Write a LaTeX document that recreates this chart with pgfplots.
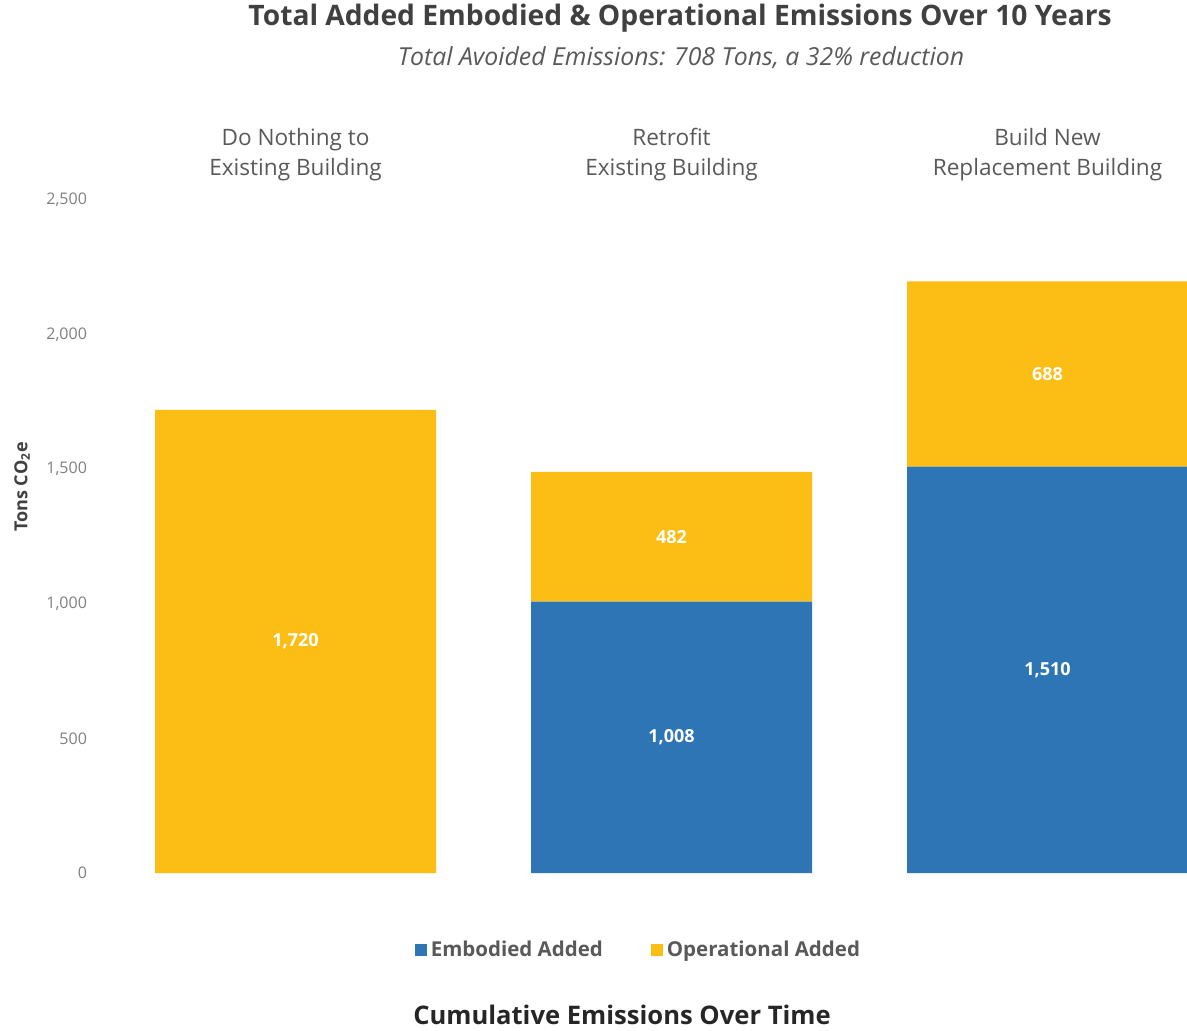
\documentclass[border=0pt]{standalone}
\usepackage{pgfplots}
\pgfplotsset{compat=1.18}
\usepackage{fontspec}
\setmainfont{Open Sans}
\definecolor{cblue}{RGB}{46,117,182}
\definecolor{cyel}{RGB}{252,190,20}
\definecolor{tgray}{RGB}{89,89,89}
\definecolor{titlegray}{RGB}{64,64,64}
\definecolor{tickgray}{RGB}{128,128,128}
\begin{document}
\begin{tikzpicture}[x=1pt,y=1pt]
\useasboundingbox (0,0) rectangle (593.5,515);
\pgfplotsset{base/.style={
  at={(47pt,78.5pt)}, anchor=south west,
  scale only axis, width=546.5pt, height=336.5pt,
  xmin=-0.536, xmax=2.371, ymin=0, ymax=2500,
  axis line style={draw=none}, major tick length=0pt,
  clip=false,
}}
\begin{axis}[base, ybar stacked, bar width=140.5pt,
  xtick={0,1,2},
  xticklabels={{Do Nothing to\\Existing Building},{Retrofit\\Existing Building},{Build New\\Replacement Building}},
  xticklabel pos=upper,
  xticklabel style={align=center, font=\fontsize{11.3}{15}\selectfont, text=tgray, yshift=6pt},
  ytick={0,500,1000,1500,2000,2500},
  scaled y ticks=false,
  yticklabel style={font=\fontsize{8}{9}\selectfont, text=tickgray, /pgf/number format/1000 sep={,}},
  /pgf/number format/assume math mode=true,
  legend style={at={(axis description cs:0.499,-0.1144)}, anchor=center, draw=none, fill=none,
    legend columns=2, font=\bfseries\fontsize{10.25}{12}\selectfont\color{tgray},
    /tikz/every even column/.append style={column sep=22pt}},
  legend image code/.code={\fill[#1] (0pt,-3pt) rectangle (6pt,3pt);},
]
\addplot[fill=cblue, draw=none] coordinates {(0,0) (1,1008) (2,1510)};
\addlegendentry{Embodied Added}
\addplot[fill=cyel, draw=none] coordinates {(0,1720) (1,482) (2,688)};
\addlegendentry{Operational Added}
\end{axis}
\begin{axis}[base, hide axis]
\addplot[draw=none, nodes near coords, point meta=explicit symbolic,
  nodes near coords align=center,
  every node near coord/.append style={font=\bfseries\fontsize{9}{10}\selectfont, text=white}]
  table[meta=label] {
  x y label
  0 860 1,720
  1 504 1,008
  1 1249 482
  2 755 1,510
  2 1854 688
  };
\end{axis}
\node[font=\bfseries\fontsize{14.1}{16}\selectfont, text=titlegray] at (340,506) {Total Added Embodied \& Operational Emissions Over 10 Years};
\node[font=\itshape\fontsize{12.4}{14}\selectfont, text=tgray] at (340.5,486) {Total Avoided Emissions: 708 Tons, a 32\% reduction};
\node[font=\bfseries\fontsize{9}{10}\selectfont, text=titlegray, rotate=90] at (11,271.5) {Tons CO\textsubscript{2}e};
\node[font=\bfseries\fontsize{12.8}{14}\selectfont, text=black!85, inner sep=1pt] at (311,7.5) {Cumulative Emissions Over Time};
\end{tikzpicture}
\end{document}
